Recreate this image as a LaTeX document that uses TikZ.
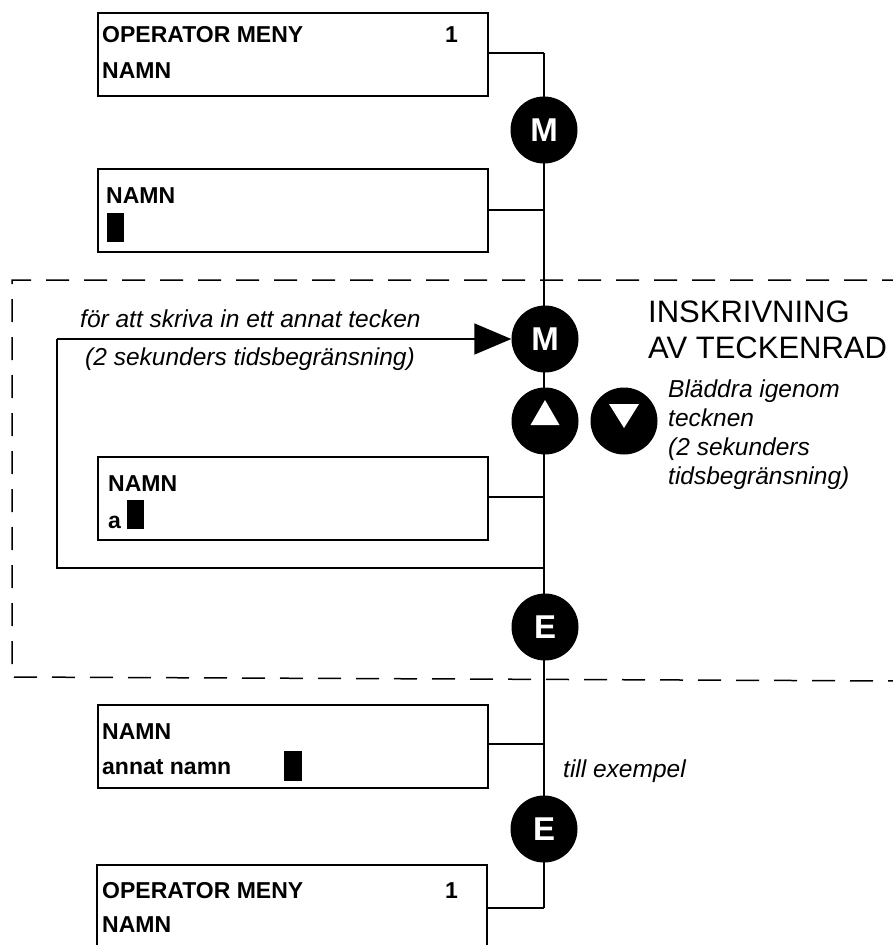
\documentclass[tikz,border=0pt]{standalone}
\usepackage{fontspec}
\setmainfont{Liberation Sans}
\usetikzlibrary{arrows.meta}
\begin{document}
\begin{tikzpicture}[x=1pt,y=-1pt,
  lcd/.style={draw, line width=1.8pt, minimum width=390pt, minimum height=83pt, inner sep=0pt, anchor=north west},
  lcdopen/.style={line width=1.8pt},
  btn/.style={circle, fill=black, minimum size=67pt, inner sep=0pt, text=white, font=\fontsize{33}{33}\selectfont\bfseries},
  ltxt/.style={anchor=base west, inner sep=0pt, font=\fontsize{23}{23}\selectfont\bfseries},
  itxt/.style={anchor=base west, inner sep=0pt, font=\fontsize{24.5}{24.5}\selectfont\itshape},
  htxt/.style={anchor=base west, inner sep=0pt, font=\fontsize{31}{31}\selectfont},
  cursor/.style={fill=black, inner sep=0pt, minimum width=17pt, minimum height=29pt},
  wire/.style={line width=1.6pt},
  dashbox/.style={line width=1.5pt, dash pattern=on 23pt off 15pt}
]
\useasboundingbox (0,0) rectangle (893,945);
\clip (0,0) rectangle (893,945);

% dashed region
\draw[dashbox] (905,280) -- (12,280) -- (12,677) -- (905,681);

% boxes
\node[lcd] (b1) at (97,12) {};
\node[lcd] (b2) at (97,168) {};
\node[lcd] (b3) at (97,456) {};
\node[lcd] (b4) at (97,704) {};
\coordinate (b5tl) at (97,865);
\coordinate (b5tr) at (487,865);
\coordinate (b5bl) at (97,960);
\coordinate (b5br) at (487,960);
\draw[lcdopen] (b5bl) -- (b5tl) -- (b5tr) -- (b5br);

% texts in boxes
\node[ltxt] (t1a) at (102,42) {OPERATOR MENY};
\node[ltxt] (t1b) at (445,42) {1};
\node[ltxt] (t1c) at (102,78) {NAMN};
\node[ltxt] (t2a) at (106,203) {NAMN};
\node[cursor] (k2) at (115.5,227.5) {};
\node[ltxt] (t3a) at (108,491) {NAMN};
\node[ltxt] (t3b) at (108,528) {a};
\node[cursor] (k3) at (135.5,514.5) {};
\node[ltxt] (t4a) at (102,739) {NAMN};
\node[ltxt] (t4b) at (102,774) {annat namn};
\node[cursor, minimum width=18pt, minimum height=30pt] (k4) at (292.5,766) {};
\node[ltxt] (t5a) at (102,898) {OPERATOR MENY};
\node[ltxt] (t5b) at (445,898) {1};
\node[ltxt] (t5c) at (102,932) {NAMN};

% junctions on the spine
\coordinate (j1) at (544,53);
\coordinate (j2) at (544,210);
\coordinate (j3) at (544,497);
\coordinate (j4) at (544,568);
\coordinate (j6) at (544,744);
\coordinate (j5) at (544,908);
\coordinate (l1) at (57,568);
\coordinate (l2) at (57,339);

% spine and branches
\draw[wire] (j1) -- (j5);
\draw[wire] (b1.east |- j1) -- (j1);
\draw[wire] (b2.east |- j2) -- (j2);
\draw[wire] (b3.east |- j3) -- (j3);
\draw[wire] (b4.east |- j6) -- (j6);
\draw[wire] (b5tr |- j5) -- (j5);

% buttons
\node[btn] (m1) at (544,130) {M};
\node[btn] (m2) at (545,339) {M};
\node[btn] (up) at (545,421) {};
\node[btn] (dn) at (624,421) {};
\node[btn] (e1) at (545,627) {E};
\node[btn] (e2) at (544,829) {E};
\fill[white] ([yshift=21pt]up.center) -- ([xshift=-14.5pt,yshift=-4pt]up.center) -- ([xshift=14.5pt,yshift=-4pt]up.center) -- cycle;
\fill[white] ([yshift=-7pt]dn.center) -- ([xshift=-15pt,yshift=17pt]dn.center) -- ([xshift=15pt,yshift=17pt]dn.center) -- cycle;

% loop back
\draw[wire] (j4) -- (l1) -- (l2);
\draw[wire, -{Triangle[length=37pt,width=31pt]}] (l2) -- (m2.west |- l2);

% annotations
\node[itxt] (a1) at (80,327) {för att skriva in ett annat tecken};
\node[itxt] (a2) at (85,365) {(2 sekunders tidsbegränsning)};
\node[htxt] (h1) at (648,322) {INSKRIVNING};
\node[htxt] (h2) at (648,358) {AV TECKENRAD};
\node[itxt] (r1) at (668,397) {Bläddra igenom};
\node[itxt] (r2) at (668,426) {tecknen};
\node[itxt] (r3) at (668,455) {(2 sekunders};
\node[itxt] (r4) at (668,484) {tidsbegränsning)};
\node[itxt] (x1) at (563,777) {till exempel};
\end{tikzpicture}
\end{document}
